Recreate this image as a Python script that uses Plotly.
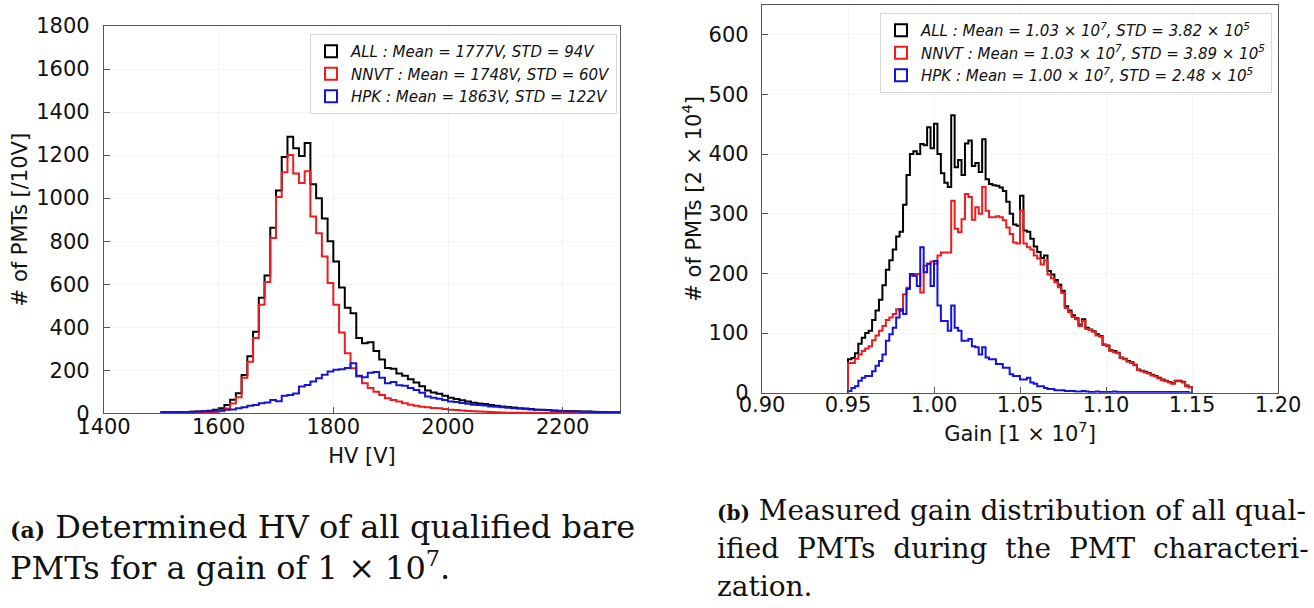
import numpy as np
import plotly.graph_objects as go

# ---------------- data: HV histogram (10 V bins starting at 1500 V) ----------------
HV_BIN_START = 1500
HV_BIN_WIDTH = 10
HV_ALL = [5, 5, 6, 6, 6, 7, 8, 10, 12, 17,
          24, 38, 63, 93, 178, 265, 379, 537, 640, 862,
          1036, 1191, 1285, 1232, 1196, 1256, 1065, 1000, 905, 800,
          706, 585, 490, 465, 350, 325, 330, 290, 250, 210,
          207, 185, 175, 158, 143, 126, 106, 97, 91, 82,
          72, 67, 61, 55, 49, 46, 43, 38, 35, 32,
          29, 27, 24, 22, 20, 17, 16, 15, 13, 12,
          11, 10, 9, 8, 8, 7, 6, 6, 5, 5]
HV_NNVT = [0, 0, 0, 0, 0, 0, 0, 1, 2, 5,
           10, 22, 45, 75, 165, 240, 350, 505, 610, 815,
           1005, 1120, 1200, 1115, 1070, 1125, 915, 837, 729, 605,
           504, 375, 279, 209, 171, 140, 118, 100, 85, 70,
           62, 55, 47, 40, 35, 31, 28, 25, 23, 20,
           17, 15, 13, 11, 9, 8, 7, 6, 5, 4,
           3, 3, 2, 2, 2, 1, 1, 1, 1, 1,
           1, 1, 0, 0, 0, 0, 0, 0, 0, 0]
HV_HPK = [5, 5, 6, 6, 6, 7, 8, 9, 10, 12,
          14, 16, 18, 23, 28, 35, 39, 47, 50, 62,
          56, 81, 85, 92, 124, 132, 148, 163, 179, 194,
          202, 205, 210, 233, 175, 168, 189, 192, 165, 140,
          145, 130, 128, 118, 108, 95, 78, 72, 68, 62,
          55, 52, 48, 44, 40, 38, 36, 32, 30, 28,
          26, 24, 22, 20, 18, 16, 15, 14, 12, 11,
          10, 9, 8, 7, 7, 6, 5, 5, 4, 4]

# ---------------- data: gain histogram (0.002 x 1e7 bins starting at 0.95) ----------------
GAIN_BIN_START = 0.95
GAIN_BIN_WIDTH = 0.002
GAIN_ALL = [56, 58, 66, 82, 92, 100, 104, 122, 138, 156,
            180, 206, 222, 240, 262, 270, 315, 365, 400, 405,
            400, 417, 415, 445, 410, 451, 400, 368, 352, 345,
            465, 378, 390, 365, 418, 423, 380, 385, 370, 425,
            358, 350, 348, 347, 344, 338, 320, 300, 282, 280,
            330, 272, 270, 258, 245, 236, 226, 230, 204, 198,
            189, 181, 171, 145, 138, 130, 125, 114, 123, 109,
            106, 103, 98, 95, 81, 79, 71, 70, 67, 59,
            57, 53, 51, 47, 39, 37, 35, 33, 30, 28,
            25, 22, 20, 18, 16, 20, 20, 18, 12, 9]
GAIN_NNVT = [50, 50, 57, 64, 70, 74, 78, 88, 96, 104,
             112, 122, 126, 132, 140, 137, 165, 176, 196, 199,
             199, 168, 213, 216, 220, 216, 230, 235, 235, 235,
             322, 275, 269, 291, 333, 328, 290, 311, 300, 345,
             305, 294, 294, 296, 294, 289, 277, 266, 252, 250,
             305, 250, 244, 240, 230, 225, 215, 222, 198, 192,
             185, 177, 167, 142, 135, 127, 123, 112, 120, 107,
             105, 102, 96, 94, 80, 78, 70, 68, 66, 58,
             56, 52, 50, 46, 38, 36, 34, 32, 29, 27,
             24, 21, 19, 17, 15, 19, 19, 17, 11, 9]
GAIN_HPK = [3, 8, 11, 20, 25, 28, 28, 36, 45, 53,
            64, 87, 98, 109, 126, 140, 132, 174, 199, 196,
            179, 244, 202, 216, 179, 221, 146, 120, 120, 104,
            146, 109, 104, 87, 87, 90, 78, 76, 64, 76,
            59, 56, 56, 48, 48, 42, 42, 31, 28, 28,
            22, 22, 25, 17, 15, 11, 11, 8, 6, 6,
            4, 4, 4, 3, 3, 3, 2, 2, 3, 2,
            1, 1, 2, 1, 1, 1, 1, 2, 1, 1,
            1, 1, 1, 1, 1, 1, 1, 1, 1, 1,
            1, 1, 1, 1, 1, 1, 1, 1, 1, 0]

SERIES = ["ALL", "NNVT", "HPK"]
COLORS = {"ALL": "#000000", "NNVT": "#ee1c1c", "HPK": "#1414d8"}
HV_LEGEND = {
    "ALL": "ALL : Mean = 1777V, STD = 94V",
    "NNVT": "NNVT : Mean = 1748V, STD = 60V",
    "HPK": "HPK : Mean = 1863V, STD = 122V",
}
GAIN_LEGEND = {
    "ALL": "ALL : Mean = 1.03 × 10<sup>7</sup>, STD = 3.82 × 10<sup>5</sup>",
    "NNVT": "NNVT : Mean = 1.03 × 10<sup>7</sup>, STD = 3.89 × 10<sup>5</sup>",
    "HPK": "HPK : Mean = 1.00 × 10<sup>7</sup>, STD = 2.48 × 10<sup>5</sup>",
}

W, H = 1314, 608


def step_xy(start, width, counts):
    counts = np.asarray(counts, dtype=float)
    edges = start + width * np.arange(len(counts) + 1)
    x = np.concatenate([[edges[0]], edges])
    y = np.concatenate([[0.0], counts, [0.0]])
    return x, y


fig = go.Figure()

hv_data = {"ALL": HV_ALL, "NNVT": HV_NNVT, "HPK": HV_HPK}
gain_data = {"ALL": GAIN_ALL, "NNVT": GAIN_NNVT, "HPK": GAIN_HPK}

for s in SERIES:
    x, y = step_xy(HV_BIN_START, HV_BIN_WIDTH, hv_data[s])
    fig.add_trace(go.Scatter(x=x, y=y, mode="lines", line=dict(shape="hv", color=COLORS[s], width=2),
                             showlegend=False, xaxis="x", yaxis="y", hoverinfo="skip"))
for s in SERIES:
    x, y = step_xy(GAIN_BIN_START, GAIN_BIN_WIDTH, gain_data[s])
    fig.add_trace(go.Scatter(x=x, y=y, mode="lines", line=dict(shape="hv", color=COLORS[s], width=2),
                             showlegend=False, xaxis="x2", yaxis="y2", hoverinfo="skip"))

# legend entries (outlined patches like matplotlib step-hist legend)
for s in SERIES:
    fig.add_trace(go.Bar(x=[None], y=[None], name=HV_LEGEND[s], xaxis="x", yaxis="y",
                         legendgroup="hv_" + s,
                         marker=dict(color="rgba(0,0,0,0)", line=dict(color=COLORS[s], width=2)),
                         legend="legend"))
for s in SERIES:
    fig.add_trace(go.Bar(x=[None], y=[None], name=GAIN_LEGEND[s], xaxis="x2", yaxis="y2",
                         legendgroup="gain_" + s,
                         marker=dict(color="rgba(0,0,0,0)", line=dict(color=COLORS[s], width=2)),
                         legend="legend2"))

FONT = "DejaVu Sans"
axis_common = dict(
    showline=True, mirror=True, linecolor="#555555", linewidth=1.2,
    ticks="inside", ticklen=6, tickwidth=1.2, tickcolor="#555555",
    showgrid=True, gridcolor="rgba(0,0,0,0.04)", zeroline=False, automargin=False,
    tickfont=dict(family=FONT, size=21, color="#111111"),
)

def px_x(v):
    return v / W

def px_y(v):
    return 1 - v / H

legend_common = dict(
    xanchor="right", yanchor="top", bgcolor="white", bordercolor="#d8d8d8", borderwidth=1,
    font=dict(family=FONT, size=15, style="italic", color="#111111"),
    tracegroupgap=0, itemwidth=30, traceorder="grouped",
)

fig.update_layout(
    width=W, height=H,
    margin=dict(l=0, r=0, t=0, b=0, autoexpand=False),
    paper_bgcolor="white", plot_bgcolor="white",
    font=dict(family=FONT, color="#111111"),
    xaxis=dict(domain=[px_x(104), px_x(620)], range=[1400, 2300], tickvals=[1400, 1600, 1800, 2000, 2200],
               anchor="y", title=dict(text="HV [V]", font=dict(size=21), standoff=10),
               ticklabelstandoff=-6, **axis_common),
    yaxis=dict(domain=[px_y(413.3), px_y(26)], range=[0, 1800], dtick=200, anchor="x",
               title=dict(text="# of PMTs [/10V]", font=dict(size=21), standoff=2),
               ticklabelstandoff=9, **axis_common),
    xaxis2=dict(domain=[px_x(762), px_x(1278)], range=[0.90, 1.20], dtick=0.05, tickformat=".2f",
                anchor="y2", title=dict(text="Gain [1 × 10<sup>7</sup>]", font=dict(size=21), standoff=10),
                ticklabelstandoff=-7, **axis_common),
    yaxis2=dict(domain=[px_y(392.7), px_y(5)], range=[0, 650], dtick=100, anchor="x2",
                title=dict(text="# of PMTs [2 × 10<sup>4</sup>]", font=dict(size=21), standoff=1),
                ticklabelstandoff=8, **axis_common),
    legend=dict(x=px_x(617), y=px_y(34), **legend_common),
    legend2=dict(x=px_x(1272), y=px_y(13), **legend_common),
    showlegend=True,
    barmode="overlay",
)

SERIF = "DejaVu Serif"
captions = [
    (8, 527, 32, "<span style='font-size:22px'><b>(a)</b></span> Determined HV of all qualified bare"),
    (8, 566, 32, "PMTs for a gain of 1 × 10<sup>7</sup>."),
    (715, 510, 28, "<span style='font-size:20px'><b>(b)</b></span> Measured gain distribution of all qual-"),
    (715, 548, 28, "ified&nbsp; PMTs&nbsp; during&nbsp; the&nbsp; PMT&nbsp; characteri-"),
    (715, 586, 28, "zation."),
]
for x, y, size, t in captions:
    fig.add_annotation(x=px_x(x), y=px_y(y), xref="paper", yref="paper", text=t, showarrow=False,
                       xanchor="left", yanchor="middle", font=dict(family=SERIF, size=size, color="#111111"))

fig.write_html("out.html", config={"displayModeBar": False},
               post_script="document.body.style.margin='0px';document.body.style.padding='0px';")
